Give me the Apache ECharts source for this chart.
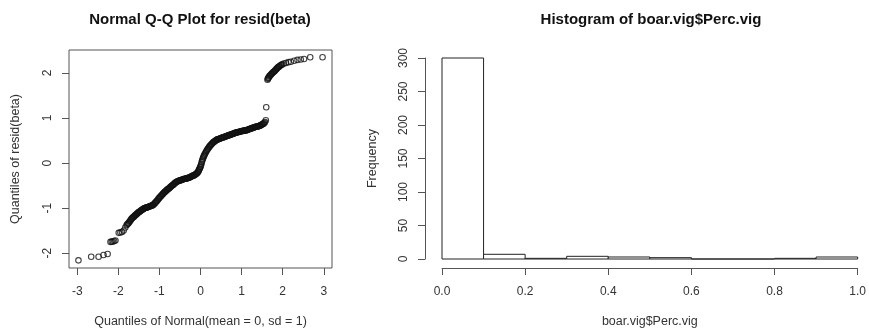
<!DOCTYPE html>
<html>
<head>
<meta charset="utf-8">
<script src="https://cdn.jsdelivr.net/npm/echarts@6/dist/echarts.min.js"></script>
<style>
  html, body { margin: 0; padding: 0; background: #fff; }
  #chart { width: 869px; height: 333px; }
</style>
</head>
<body>
<div id="chart"></div>
<script>
// Q-Q plot: theoretical quantile / sample quantile pairs
const qqPoints = [
  [-2.97, -2.16], [-2.66, -2.08], [-2.48, -2.08], [-2.36, -2.04], [-2.26, -2.02],
  [-2.19, -1.75], [-2.16, -1.745], [-2.13, -1.74], [-2.10, -1.73], [-2.07, -1.72],
  [-1.99, -1.55], [-1.95, -1.54], [-1.91, -1.53], [-1.87, -1.50],
  [-1.83, -1.43], [-1.80, -1.38], [-1.77, -1.35], [-1.74, -1.32], [-1.71, -1.28],
  [-1.68, -1.24], [-1.65, -1.21], [-1.62, -1.19], [-1.59, -1.16], [-1.56, -1.14],
  [-1.53, -1.11], [-1.50, -1.09], [-1.47, -1.07], [-1.44, -1.05], [-1.41, -1.03],
  [-1.38, -1.01], [-1.35, -1.00], [-1.32, -0.99], [-1.29, -0.98], [-1.26, -0.97],
  [-1.23, -0.96], [-1.20, -0.95], [-1.17, -0.94], [-1.14, -0.92], [-1.11, -0.89],
  [-1.08, -0.86], [-1.05, -0.83], [-1.02, -0.79], [-0.99, -0.76], [-0.96, -0.73],
  [-0.93, -0.70], [-0.90, -0.67], [-0.87, -0.64], [-0.84, -0.62], [-0.81, -0.59],
  [-0.78, -0.57], [-0.75, -0.55], [-0.72, -0.52], [-0.69, -0.50], [-0.66, -0.48],
  [-0.63, -0.45], [-0.60, -0.43], [-0.57, -0.41], [-0.54, -0.40], [-0.51, -0.39],
  [-0.48, -0.38], [-0.45, -0.37], [-0.42, -0.36], [-0.39, -0.35], [-0.36, -0.35],
  [-0.33, -0.34], [-0.30, -0.33], [-0.27, -0.32], [-0.24, -0.31], [-0.21, -0.29],
  [-0.18, -0.28], [-0.15, -0.27], [-0.12, -0.25], [-0.09, -0.23], [-0.06, -0.20],
  [-0.04, -0.16], [-0.02, -0.12], [0.00, -0.08], [0.02, -0.02], [0.04, 0.05],
  [0.06, 0.10], [0.08, 0.15], [0.10, 0.19], [0.13, 0.24], [0.16, 0.29],
  [0.19, 0.33], [0.22, 0.37], [0.25, 0.40], [0.28, 0.43], [0.31, 0.46],
  [0.34, 0.48], [0.37, 0.50], [0.40, 0.52], [0.43, 0.53], [0.46, 0.54],
  [0.49, 0.55], [0.52, 0.56], [0.55, 0.57], [0.58, 0.58], [0.61, 0.59],
  [0.64, 0.60], [0.67, 0.61], [0.70, 0.62], [0.73, 0.63], [0.76, 0.64],
  [0.79, 0.65], [0.82, 0.66], [0.85, 0.67], [0.88, 0.68], [0.91, 0.69],
  [0.94, 0.69], [0.97, 0.70], [1.00, 0.71], [1.03, 0.71], [1.06, 0.72],
  [1.09, 0.72], [1.12, 0.73], [1.15, 0.74], [1.18, 0.75], [1.21, 0.76],
  [1.24, 0.77], [1.27, 0.78], [1.30, 0.79], [1.33, 0.80], [1.36, 0.81],
  [1.39, 0.81], [1.42, 0.82], [1.45, 0.83], [1.48, 0.85], [1.51, 0.86],
  [1.54, 0.88], [1.57, 0.91], [1.59, 0.95], [1.60, 1.24],
  [1.63, 1.85], [1.64, 1.87], [1.65, 1.89], [1.66, 1.90], [1.67, 1.92],
  [1.685, 1.935], [1.70, 1.95], [1.715, 1.965], [1.73, 1.98], [1.745, 1.995],
  [1.76, 2.01], [1.775, 2.02], [1.79, 2.03], [1.805, 2.045], [1.82, 2.06],
  [1.835, 2.075], [1.85, 2.09], [1.865, 2.105], [1.88, 2.12], [1.895, 2.13],
  [1.91, 2.14], [1.93, 2.155], [1.95, 2.17], [1.97, 2.18], [1.99, 2.19],
  [2.03, 2.21], [2.08, 2.22], [2.14, 2.24], [2.20, 2.25], [2.28, 2.27],
  [2.36, 2.29], [2.44, 2.30], [2.52, 2.31], [2.67, 2.35], [2.97, 2.35]
];
// extra readings in the dense middle band
const qqPointsMid = [
  [-1.785, -1.365], [-1.755, -1.335], [-1.725, -1.30], [-1.695, -1.26], [-1.665, -1.225],
  [-1.635, -1.20], [-1.605, -1.175], [-1.575, -1.15], [-1.545, -1.125], [-1.515, -1.10],
  [-1.485, -1.08], [-1.455, -1.06], [-1.425, -1.04], [-1.395, -1.02], [-1.365, -1.005],
  [-1.335, -0.995], [-1.305, -0.985], [-1.275, -0.975], [-1.245, -0.965], [-1.215, -0.955],
  [-1.185, -0.945], [-1.155, -0.93], [-1.125, -0.905], [-1.095, -0.875], [-1.065, -0.845],
  [-1.035, -0.81], [-1.005, -0.775], [-0.975, -0.745], [-0.945, -0.715], [-0.915, -0.685],
  [-0.885, -0.655], [-0.855, -0.63], [-0.825, -0.605], [-0.795, -0.58], [-0.765, -0.56],
  [-0.735, -0.535], [-0.705, -0.51], [-0.675, -0.49], [-0.645, -0.465], [-0.615, -0.44],
  [-0.585, -0.42], [-0.555, -0.405], [-0.525, -0.395], [-0.495, -0.385], [-0.465, -0.375],
  [-0.435, -0.365], [-0.405, -0.355], [-0.375, -0.35], [-0.345, -0.345], [-0.315, -0.335],
  [-0.285, -0.325], [-0.255, -0.315], [-0.225, -0.30], [-0.195, -0.285], [-0.165, -0.275],
  [-0.135, -0.26], [-0.105, -0.24], [-0.075, -0.215], [-0.05, -0.18], [-0.03, -0.14],
  [-0.01, -0.10], [0.01, -0.05], [0.03, 0.02], [0.05, 0.08], [0.07, 0.13],
  [0.09, 0.17], [0.115, 0.215], [0.145, 0.265], [0.175, 0.31], [0.205, 0.35],
  [0.235, 0.385], [0.265, 0.415], [0.295, 0.445], [0.325, 0.47], [0.355, 0.49],
  [0.385, 0.51], [0.415, 0.525], [0.445, 0.535], [0.475, 0.545], [0.505, 0.555],
  [0.535, 0.565], [0.565, 0.575], [0.595, 0.585], [0.625, 0.595], [0.655, 0.605],
  [0.685, 0.615], [0.715, 0.625], [0.745, 0.635], [0.775, 0.645], [0.805, 0.655],
  [0.835, 0.665], [0.865, 0.675], [0.895, 0.685], [0.925, 0.69], [0.955, 0.695],
  [0.985, 0.705], [1.015, 0.71], [1.045, 0.715], [1.075, 0.72], [1.105, 0.725],
  [1.135, 0.735], [1.165, 0.745], [1.195, 0.755], [1.225, 0.765], [1.255, 0.775],
  [1.285, 0.785], [1.315, 0.795], [1.345, 0.805], [1.375, 0.81], [1.405, 0.815],
  [1.435, 0.825], [1.465, 0.84], [1.495, 0.855], [1.525, 0.87], [1.555, 0.895]
];
const qqXTicks = [-3, -2, -1, 0, 1, 2, 3];
const qqYTicks = [-2, -1, 0, 1, 2];

// histogram: bin edges and counts
const histBreaks = [0, 0.1, 0.2, 0.3, 0.4, 0.5, 0.6, 0.7, 0.8, 0.9, 1.0];
const histCounts = [300, 7, 1, 4, 3, 2, 0, 0, 1, 3];

const histData = histCounts.map((c, i) => [histBreaks[i], histBreaks[i + 1], c]);

const FONT = '"Liberation Sans", Arial, sans-serif';
const axisCol = '#555';
const labelStyle = { color: '#333', fontSize: 12, fontFamily: FONT };
const nameStyle = { color: '#333', fontSize: 12.5, fontFamily: FONT };
const titleStyle = { fontSize: 15, fontWeight: 'bold', fontFamily: FONT, color: '#111' };
const circleStyle = { color: 'transparent', borderColor: '#111', borderWidth: 1.1 };

const chart = echarts.init(document.getElementById('chart'), null, { renderer: 'canvas' });

chart.setOption({
  animation: false,
  backgroundColor: '#fff',
  title: [
    {
      text: 'Normal Q-Q Plot for resid(beta)',
      left: 200, top: 12, padding: 0, textAlign: 'center',
      textStyle: titleStyle
    },
    {
      text: 'Histogram of boar.vig$Perc.vig',
      left: 651, top: 12, padding: 0, textAlign: 'center',
      textStyle: titleStyle
    }
  ],
  grid: [
    { left: 69, top: 50, width: 263, height: 218, show: true, borderColor: axisCol, borderWidth: 1, backgroundColor: 'transparent' },
    { left: 442, top: 58, width: 419, height: 202 }
  ],
  xAxis: [
    {
      gridIndex: 0, type: 'value', min: -3.2, max: 3.2,
      name: 'Quantiles of Normal(mean = 0, sd = 1)', nameLocation: 'middle', nameGap: 47,
      nameTextStyle: nameStyle,
      axisLine: { show: false, onZero: false },
      axisTick: { show: true, length: 7, customValues: qqXTicks, lineStyle: { color: axisCol } },
      axisLabel: { customValues: qqXTicks, margin: 18, ...labelStyle },
      splitLine: { show: false }
    },
    {
      gridIndex: 1, type: 'value', min: 0, max: 1, interval: 0.2, offset: 9,
      name: 'boar.vig$Perc.vig', nameLocation: 'middle', nameGap: 47,
      nameTextStyle: nameStyle,
      axisLine: { show: true, onZero: false, lineStyle: { color: axisCol } },
      axisTick: { show: true, length: 7, lineStyle: { color: axisCol } },
      axisLabel: { margin: 18, formatter: v => v.toFixed(1), ...labelStyle },
      splitLine: { show: false }
    }
  ],
  yAxis: [
    {
      gridIndex: 0, type: 'value', min: -2.33, max: 2.51,
      name: 'Quantiles of resid(beta)', nameLocation: 'middle', nameGap: 47,
      nameTextStyle: nameStyle,
      axisLine: { show: false, onZero: false },
      axisTick: { show: true, length: 7, customValues: qqYTicks, lineStyle: { color: axisCol } },
      axisLabel: { customValues: qqYTicks, rotate: 90, margin: 15, ...labelStyle },
      splitLine: { show: false }
    },
    {
      gridIndex: 1, type: 'value', min: 0, max: 300, interval: 50, offset: 17,
      name: 'Frequency', nameLocation: 'middle', nameGap: 46,
      nameTextStyle: nameStyle,
      axisLine: { show: true, onZero: false, lineStyle: { color: axisCol } },
      axisTick: { show: true, length: 7, lineStyle: { color: axisCol } },
      axisLabel: { rotate: 90, margin: 15, ...labelStyle },
      splitLine: { show: false }
    }
  ],
  series: [
    {
      type: 'scatter', xAxisIndex: 0, yAxisIndex: 0,
      data: qqPoints, symbol: 'circle', symbolSize: 5.5,
      itemStyle: circleStyle, silent: true
    },
    {
      type: 'scatter', xAxisIndex: 0, yAxisIndex: 0,
      data: qqPointsMid, symbol: 'circle', symbolSize: 5.5,
      itemStyle: circleStyle, silent: true
    },
    {
      type: 'custom', xAxisIndex: 1, yAxisIndex: 1,
      data: histData,
      encode: { x: [0, 1], y: 2 },
      renderItem: function (params, api) {
        const p0 = api.coord([api.value(0), api.value(2)]);
        const p1 = api.coord([api.value(1), 0]);
        return {
          type: 'rect',
          shape: { x: p0[0], y: p0[1], width: p1[0] - p0[0], height: p1[1] - p0[1] },
          style: { fill: '#fff', stroke: '#222', lineWidth: 1 }
        };
      },
      silent: true
    }
  ]
});
</script>
</body>
</html>
